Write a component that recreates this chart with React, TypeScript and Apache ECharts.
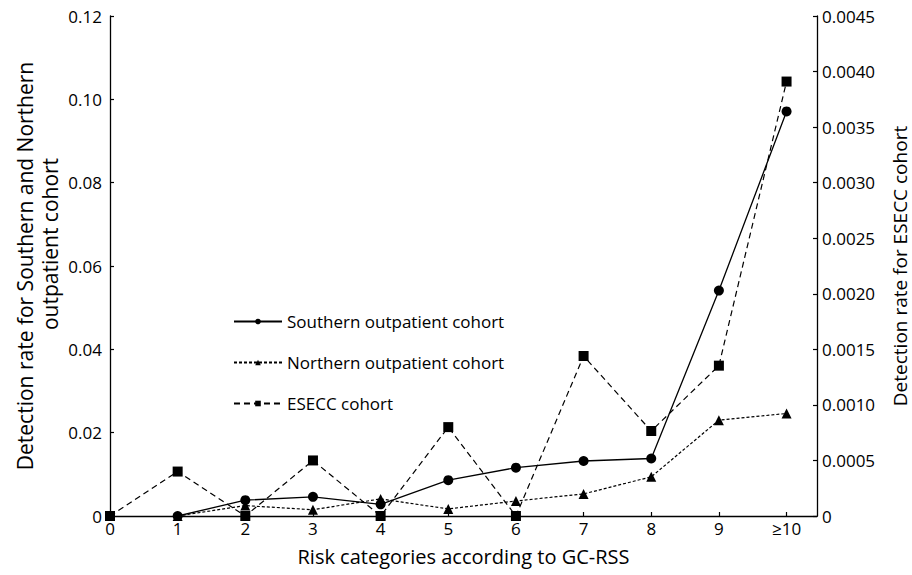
import React, { useEffect, useRef } from "react";
import * as echarts from "echarts";

const categories = ["0", "1", "2", "3", "4", "5", "6", "7", "8", "9", "≥10"];
const southern: (number | null)[] = [null, 0, 0.0038, 0.0046, 0.0028, 0.0086, 0.0116, 0.0132, 0.0138, 0.0541, 0.0971];
const northern: (number | null)[] = [null, 0, 0.0025, 0.0015, 0.0041, 0.0017, 0.0036, 0.0053, 0.0094, 0.023, 0.0246];
const esecc: (number | null)[] = [0, 0.0004, 0, 0.0005, 0, 0.0008, 0, 0.00144, 0.000765, 0.001353, 0.00391];
const leftTicks = { min: 0, max: 0.12, interval: 0.02 };
const rightTicks = { min: 0, max: 0.0045, interval: 0.0005 };
const leftNameLines = ["Detection rate for Southern and Northern", "outpatient cohort"];

const FONT = "'Open Sans', 'Noto Sans', sans-serif";

function pairs(arr: (number | null)[]) {
  return arr.map((v, i) => [i, v == null ? "-" : v]);
}

export default function App() {
  const ref = useRef<HTMLDivElement>(null);
  useEffect(() => {
    if (!ref.current) return;
    const chart = echarts.init(ref.current, undefined, { renderer: "svg" });
    const axisLine = { show: true, lineStyle: { color: "#000", width: 1.3 } };
    const axisTick = { show: true, inside: true, length: 4, lineStyle: { color: "#000", width: 1.2 } };
    chart.setOption({
      animation: false,
      backgroundColor: "#fff",
      textStyle: { fontFamily: FONT, color: "#000" },
      grid: { left: 110, right: 95, top: 16, bottom: 59, containLabel: false, outerBoundsMode: "none" },
      graphic: [
        {
          type: "text",
          x: 50,
          y: 244,
          rotation: Math.PI / 2,
          style: {
            text: leftNameLines[1],
            fontFamily: FONT,
            fontSize: 21,
            fill: "#000",
            align: "center",
            verticalAlign: "middle",
          },
        },
      ],
      legend: {
        orient: "vertical",
        left: 228,
        top: 308,
        itemWidth: 48,
        itemHeight: 7,
        itemGap: 24,
        textStyle: { fontFamily: FONT, fontSize: 17, color: "#000" },
        data: ["Southern outpatient cohort", "Northern outpatient cohort", "ESECC cohort"],
      },
      xAxis: {
        type: "value",
        min: 0,
        max: 10.45,
        interval: 1,
        axisLine,
        axisTick,
        splitLine: { show: false },
        axisLabel: {
          fontFamily: FONT,
          fontSize: 17,
          color: "#000",
          margin: 4,
          showMaxLabel: false,
          formatter: (v: number) => (Number.isInteger(v) && v <= 10 ? categories[v] : ""),
        },
        name: "Risk categories according to GC-RSS",
        nameLocation: "middle",
        nameGap: 30,
        nameMoveOverlap: false,
        nameTextStyle: { fontFamily: FONT, fontSize: 20, color: "#000" },
      },
      yAxis: [
        {
          type: "value",
          position: "left",
          min: leftTicks.min,
          max: leftTicks.max,
          interval: leftTicks.interval,
          axisLine,
          axisTick,
          splitLine: { show: false },
          axisLabel: {
            fontFamily: FONT,
            fontSize: 17,
            color: "#000",
            margin: 8,
            formatter: (v: number) => (v === 0 ? "0" : v.toFixed(2)),
          },
          name: leftNameLines[0],
          nameLocation: "middle",
          nameRotate: 90,
          nameGap: 85,
          nameMoveOverlap: false,
          nameTextStyle: { fontFamily: FONT, fontSize: 21, color: "#000", verticalAlign: "middle" },
        },
        {
          type: "value",
          position: "right",
          min: rightTicks.min,
          max: rightTicks.max,
          interval: rightTicks.interval,
          axisLine,
          axisTick,
          splitLine: { show: false },
          axisLabel: {
            fontFamily: FONT,
            fontSize: 17,
            color: "#000",
            margin: 5,
            formatter: (v: number) => (v === 0 ? "0" : v.toFixed(4)),
          },
          name: "Detection rate for ESECC cohort",
          nameLocation: "middle",
          nameRotate: 90,
          nameGap: 83,
          nameMoveOverlap: false,
          nameTextStyle: { fontFamily: FONT, fontSize: 19, color: "#000", verticalAlign: "middle", lineHeight: 20 },
        },
      ],
      series: [
        {
          name: "Southern outpatient cohort",
          type: "line",
          yAxisIndex: 0,
          data: pairs(southern),
          symbol: "circle",
          symbolSize: 10,
          itemStyle: { color: "#000" },
          lineStyle: { color: "#000", width: 1.3, type: "solid" },
          z: 3,
        },
        {
          name: "Northern outpatient cohort",
          type: "line",
          yAxisIndex: 0,
          data: pairs(northern),
          symbol: "triangle",
          symbolSize: 10,
          itemStyle: { color: "#000" },
          lineStyle: { color: "#000", width: 1.2, type: [3, 2] },
          z: 2,
        },
        {
          name: "ESECC cohort",
          type: "line",
          yAxisIndex: 1,
          data: pairs(esecc),
          symbol: "rect",
          symbolSize: 10,
          itemStyle: { color: "#000" },
          lineStyle: { color: "#000", width: 1.2, type: [6, 4] },
          z: 1,
        },
      ],
    });
    return () => chart.dispose();
  }, []);
  return <div ref={ref} style={{ width: 912, height: 575, position: "absolute", left: 0, top: 0 }} />;
}
